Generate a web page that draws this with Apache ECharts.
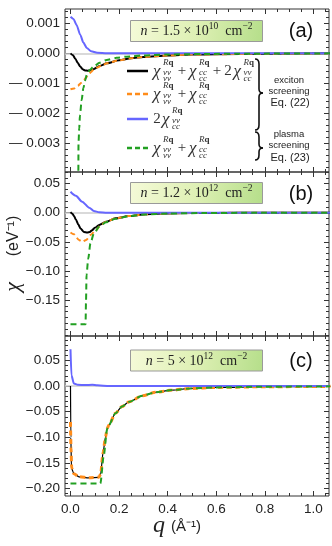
<!doctype html>
<html>
<head>
<meta charset="utf-8">
<title>chi(q) three densities</title>
<script src="https://cdn.jsdelivr.net/npm/echarts@6.0.0/dist/echarts.min.js"></script>
<style>
    body{margin:0;background:#fff;}
    #main{width:332px;height:546px;}
</style>
</head>
<body>
<div id="main"></div>
<script>
// ---- data, [q, chi] ----
// (a) n = 1.5e10
var aBlack = [[0,0],[0.01,-0.00006],[0.02,-0.00018],[0.03,-0.00032],[0.04,-0.00044],[0.05,-0.00053],[0.06,-0.00057],[0.07,-0.00058],[0.08,-0.00057],[0.094,-0.00053],[0.12,-0.00042],[0.15,-0.00033],[0.2,-0.00023],[0.25,-0.00016],[0.3,-0.00012],[0.4,-0.00007],[0.5,-0.00004],[0.6,-0.00003],[0.8,-0.00001],[1.07,0]];
var aOrange = [[0,-0.0012],[0.015,-0.00117],[0.03,-0.00108],[0.045,-0.00098],[0.055,-0.0009],[0.065,-0.0008],[0.075,-0.0007],[0.085,-0.00062],[0.095,-0.00054],[0.11,-0.00047],[0.13,-0.0004],[0.15,-0.00033],[0.2,-0.00023],[0.25,-0.00016],[0.3,-0.00012],[0.4,-0.00007],[0.5,-0.00004],[0.6,-0.00003],[0.8,-0.00001],[1.07,0]];
var aBlue = [[0,0.00122],[0.012,0.00115],[0.025,0.00095],[0.04,0.00062],[0.053,0.00036],[0.067,0.00018],[0.085,0.00007],[0.11,0.00002],[0.15,0.000005],[0.3,0],[1.07,0]];
var aGreen = [[0,-0.006],[0.031,-0.006],[0.032,-0.0045],[0.033,-0.003],[0.036,-0.0025],[0.039,-0.00206],[0.046,-0.00156],[0.053,-0.00116],[0.06,-0.00091],[0.067,-0.00072],[0.08,-0.00055],[0.094,-0.00045],[0.12,-0.00031],[0.149,-0.00022],[0.19,-0.00015],[0.231,-0.00011],[0.3,-0.00007],[0.4,-0.00004],[0.55,-0.00002],[0.75,-0.00001],[1.07,0]];
// (b) n = 1.2e12
var bBlack = [[0,0.001],[0.008,-0.002],[0.015,-0.006],[0.022,-0.0115],[0.032,-0.02],[0.041,-0.027],[0.055,-0.033],[0.069,-0.034],[0.08,-0.033],[0.089,-0.03],[0.1,-0.026],[0.118,-0.021],[0.146,-0.0155],[0.185,-0.0097],[0.24,-0.0057],[0.309,-0.0028],[0.377,-0.0012],[0.5,-0.0005],[0.7,-0.0002],[1.07,0]];
var bOrange = [[0,-0.034],[0.014,-0.037],[0.035,-0.047],[0.049,-0.05],[0.064,-0.047],[0.084,-0.038],[0.104,-0.03],[0.125,-0.021],[0.146,-0.0155],[0.185,-0.0097],[0.24,-0.0057],[0.309,-0.0028],[0.377,-0.0012],[0.5,-0.0005],[0.7,-0.0002],[1.07,0]];
var bBlue = [[0,0.036],[0.022,0.029],[0.048,0.019],[0.077,0.0086],[0.096,0.003],[0.118,0.0007],[0.15,0.0001],[0.3,0],[1.07,0]];
var bGreen = [[0,-0.192],[0.062,-0.192],[0.064,-0.15],[0.066,-0.107],[0.073,-0.079],[0.082,-0.053],[0.096,-0.036],[0.118,-0.024],[0.146,-0.0166],[0.185,-0.0105],[0.24,-0.006],[0.309,-0.003],[0.4,-0.0013],[0.55,-0.0005],[0.75,-0.0002],[1.07,0]];
// (c) n = 5e12
var cBlack = [[0,0],[0.0015,-0.1],[0.004,-0.16],[0.014,-0.171],[0.035,-0.177],[0.076,-0.179],[0.117,-0.178],[0.124,-0.172],[0.134,-0.13],[0.144,-0.1],[0.151,-0.083],[0.158,-0.076],[0.185,-0.053],[0.212,-0.04],[0.24,-0.031],[0.295,-0.019],[0.35,-0.012],[0.419,-0.0078],[0.494,-0.0045],[0.6,-0.0025],[0.8,-0.0012],[1.07,-0.0005]];
var cOrange = [[0,-0.07],[0.002,-0.12],[0.005,-0.16],[0.014,-0.171],[0.035,-0.177],[0.076,-0.179],[0.117,-0.178],[0.124,-0.172],[0.134,-0.13],[0.144,-0.1],[0.151,-0.083],[0.158,-0.076],[0.185,-0.053],[0.212,-0.04],[0.24,-0.031],[0.295,-0.019],[0.35,-0.012],[0.419,-0.0078],[0.494,-0.0045],[0.6,-0.0025],[0.8,-0.0012],[1.07,-0.0005]];
var cBlue = [[0,0.072],[0.004,0.021],[0.014,0.005],[0.03,0.0025],[0.06,0.002],[0.09,0.0025],[0.11,0.0015],[0.16,0.0003],[0.3,0.0001],[1.07,0]];
var cGreen = [[0,-0.19],[0.123,-0.19],[0.137,-0.135],[0.151,-0.083],[0.158,-0.076],[0.185,-0.053],[0.212,-0.04],[0.24,-0.031],[0.295,-0.019],[0.35,-0.012],[0.419,-0.0078],[0.494,-0.0045],[0.6,-0.0025],[0.8,-0.0012],[1.07,-0.0005]];

// ticks
var xTicks = [0, 0.2, 0.4, 0.6, 0.8, 1.0];
var yTicksA = [-0.003, -0.002, -0.001, 0, 0.001];
var yTicksB = [-0.15, -0.1, -0.05, 0, 0.05];
var yTicksC = [-0.2, -0.15, -0.1, -0.05, 0, 0.05];
var densMant = ['1.5', '1.2', '5'];
var densExp = ['10', '12', '12'];
var panelTags = ['(a)', '(b)', '(c)'];

var SANS = "'Liberation Sans', Arial, sans-serif";
var SERIF = "'Liberation Serif', 'DejaVu Serif', serif";
var XMIN = -0.0226, XMAX = 1.064;

var panels = [
    {top: 9, h: 163, min: -0.00396, max: 0.00148, major: yTicksA, minorStep: 0.0002, dec: 3,
     minus: '\u2014 ', data: [aBlack, aOrange, aBlue, aGreen]},
    {top: 172, h: 164, min: -0.212, max: 0.070, major: yTicksB, minorStep: 0.01, dec: 2,
     minus: '\u2212', data: [bBlack, bOrange, bBlue, bGreen]},
    {top: 336, h: 160, min: -0.2145, max: 0.0978, major: yTicksC, minorStep: 0.01, dec: 2,
     minus: '\u2212', data: [cBlack, cOrange, cBlue, cGreen]}
];

function steps(lo, hi, st) {
    var r = [];
    for (var v = Math.ceil(lo / st); v * st <= hi; v++) r.push(Math.round(v * st * 1e7) / 1e7);
    return r;
}
var xMinor = steps(0, 1.05, 0.05);

function fmt(dec, minus) {
    return function (v) {
        var s = Math.abs(v).toFixed(dec);
        return v < -1e-12 ? minus + s : s;
    };
}

var grid = [], xAxis = [], yAxis = [], series = [];
panels.forEach(function (p, i) {
    grid.push({left: 65, top: p.top, width: 264, height: p.h, show: true,
               borderColor: '#333', borderWidth: 1, backgroundColor: 'transparent'});
    // x: bottom major, bottom minor, top major, top minor
    [['bottom', xTicks, 5, i == 2], ['bottom', xMinor, 3, false],
     ['top', xTicks, 5, false], ['top', xMinor, 3, false]].forEach(function (c) {
        xAxis.push({gridIndex: i, type: 'value', position: c[0], min: XMIN, max: XMAX,
            axisLine: {show: false, onZero: false}, splitLine: {show: false},
            axisTick: {show: true, inside: true, length: c[2], customValues: c[1],
                       lineStyle: {color: '#333', width: 1}},
            axisLabel: {show: c[3], customValues: c[1], margin: 6, color: '#222',
                        fontSize: 13.5, fontFamily: SANS, hideOverlap: false,
                        formatter: function (v) { return v.toFixed(1); }}});
    });
    var yMinor = steps(p.min, p.max, p.minorStep);
    [['left', p.major, 5, true], ['left', yMinor, 3, false],
     ['right', p.major, 5, false], ['right', yMinor, 3, false]].forEach(function (c) {
        yAxis.push({gridIndex: i, type: 'value', position: c[0], min: p.min, max: p.max,
            axisLine: {show: false, onZero: false}, splitLine: {show: false},
            axisTick: {show: true, inside: true, length: c[2], customValues: c[1],
                       lineStyle: {color: '#333', width: 1}},
            axisLabel: {show: c[3], customValues: c[1], margin: 5, color: '#222',
                        fontSize: 13.5, fontFamily: SANS, hideOverlap: false,
                        formatter: fmt(p.dec, p.minus)}});
    });
    var styles = [
        {color: '#000', width: i == 2 ? 1.2 : 2, type: 'solid'},
        {color: '#ff8c1a', width: i == 2 ? 3 : 2, type: [5, 3.5]},
        {color: '#6666ff', width: 2, type: 'solid'},
        {color: '#22a022', width: 2, type: [6, 4]}
    ];
    p.data.forEach(function (d, k) {
        var s = {type: 'line', xAxisIndex: 4 * i, yAxisIndex: 4 * i, data: d,
                 symbol: 'none', smooth: 0.25, smoothMonotone: 'x', clip: true,
                 lineStyle: styles[k], z: 3 + k, silent: true};
        if (k == 0) {
            s.markLine = {silent: true, symbol: 'none', label: {show: false},
                          lineStyle: {color: '#cccccc', width: 1.5, type: 'solid'},
                          data: [{yAxis: 0}], z: 1};
        }
        series.push(s);
    });
});

// ---- annotation graphics ----
var graphic = [];
function txt(x, y, t, font, size, opts) {
    var st = {text: t, x: x, y: y, fontFamily: font, fontSize: size, fill: '#222',
              align: 'center', verticalAlign: 'middle', textAlign: 'center', textVerticalAlign: 'middle'};
    for (var k in (opts || {})) st[k] = opts[k];
    if (st.align) st.textAlign = st.align;
    graphic.push({type: 'text', z: 100, style: st});
}
var boxTop = [20.5, 182.5, 350];
var boxFill = new echarts.graphic.LinearGradient(0, 0, 1, 1, [
    {offset: 0, color: '#f5fad8'}, {offset: 0.5, color: '#def0b4'}, {offset: 1, color: '#b5de8a'}]);
panels.forEach(function (p, i) {
    graphic.push({type: 'rect', z: 90, shape: {x: 130.5, y: boxTop[i], width: 132, height: 21},
                  style: {fill: boxFill, stroke: '#9a9a9a', lineWidth: 1}});
    graphic.push({type: 'text', z: 100, style: {
        x: 196.5, y: boxTop[i] + 11, align: 'center', verticalAlign: 'middle',
        textAlign: 'center', textVerticalAlign: 'middle',
        text: '{i|n}{m| = ' + densMant[i] + ' \u00d7 10}{s|' + densExp[i] + '}{m|  cm}{s|\u22122}',
        rich: {
            i: {fontFamily: SERIF, fontStyle: 'italic', fontSize: 14, lineHeight: 20, fill: '#222'},
            m: {fontFamily: SERIF, fontSize: 14, lineHeight: 20, fill: '#222'},
            s: {fontFamily: SERIF, fontSize: 9.5, lineHeight: 11, verticalAlign: 'top', fill: '#222'}
        }}});
    txt(301, p.top + [22.5, 22, 25.5][i], panelTags[i], SANS, 20, {fill: '#111'});
});

// legend in (a)
var legRows = [71, 94, 119, 148];
var legStyles = [
    {stroke: '#000', lineWidth: 2.5},
    {stroke: '#ff8c1a', lineWidth: 2.5, lineDash: [5, 3]},
    {stroke: '#6666ff', lineWidth: 2.5},
    {stroke: '#22a022', lineWidth: 2.5, lineDash: [5, 3]}
];
legRows.forEach(function (y, k) {
    graphic.push({type: 'line', z: 95, shape: {x1: 127, y1: y, x2: 148, y2: y}, style: legStyles[k]});
});
function chi(x, cy, s1, s2) {
    txt(x, cy, '\u03c7', SERIF, 17, {align: 'left', fontStyle: 'italic', fill: '#333'});
    graphic.push({type: 'text', z: 100, style: {
        x: x + 10, y: cy - 9, align: 'left', verticalAlign: 'middle', textAlign: 'left', textVerticalAlign: 'middle',
        text: '{r|R}{q|q}',
        rich: {r: {fontFamily: SERIF, fontStyle: 'italic', fontSize: 9, fill: '#333'},
               q: {fontFamily: SERIF, fontWeight: 'bold', fontSize: 9, fill: '#333'}}}});
    txt(x + 10, cy + 0.5, s1, SERIF, 9, {align: 'left', fontStyle: 'italic', fill: '#333'});
    txt(x + 10, cy + 7, s2, SERIF, 9, {align: 'left', fontStyle: 'italic', fill: '#333'});
}
// row 1
chi(153, 72, 'vv', 'vv'); txt(182, 71, '+', SERIF, 15, {fill: '#333'});
chi(189, 72, 'cc', 'cc'); txt(217, 71, '+', SERIF, 15, {fill: '#333'});
txt(228, 71, '2', SERIF, 15, {fill: '#333'}); chi(233.5, 72, 'vv', 'cc');
// row 2
chi(153, 95, 'vv', 'vv'); txt(182, 94, '+', SERIF, 15, {fill: '#333'});
chi(189, 95, 'cc', 'cc');
// row 3
txt(157, 119, '2', SERIF, 15, {fill: '#333'}); chi(162, 120, 'vv', 'cc');
// row 4
chi(153, 149, 'vv', 'vv'); txt(182, 148, '+', SERIF, 15, {fill: '#333'});
chi(189, 149, 'cc', 'cc');

// braces built from curves and lines
function brace(top, tip, bot) {
    var st = {fill: 'none', stroke: '#111', lineWidth: 1.6};
    graphic.push({type: 'bezierCurve', z: 95, style: st,
        shape: {x1: 255, y1: top, x2: 259, y2: top + 5, cpx1: 259, cpy1: top}});
    graphic.push({type: 'line', z: 95, style: st,
        shape: {x1: 259, y1: top + 5, x2: 259, y2: tip - 4}});
    graphic.push({type: 'bezierCurve', z: 95, style: st,
        shape: {x1: 259, y1: tip - 4, x2: 263, y2: tip, cpx1: 259, cpy1: tip}});
    graphic.push({type: 'bezierCurve', z: 95, style: st,
        shape: {x1: 263, y1: tip, x2: 259, y2: tip + 4, cpx1: 259, cpy1: tip}});
    graphic.push({type: 'line', z: 95, style: st,
        shape: {x1: 259, y1: tip + 4, x2: 259, y2: bot - 5}});
    graphic.push({type: 'bezierCurve', z: 95, style: st,
        shape: {x1: 259, y1: bot - 5, x2: 255, y2: bot, cpx1: 259, cpy1: bot}});
}
brace(59, 93, 130);
brace(132, 148, 160);
txt(289, 80, 'exciton', SANS, 9.5);
txt(289, 91, 'screening', SANS, 9.5);
txt(290, 103, 'Eq. (22)', SANS, 11);
txt(289, 134, 'plasma', SANS, 9.5);
txt(289, 145, 'screening', SANS, 9.5);
txt(290, 157.5, 'Eq. (23)', SANS, 11);

// axis titles
graphic.push({type: 'text', z: 100, rotation: Math.PI / 2, x: 13, y: 287, style: {
    x: 0, y: 0, align: 'center', verticalAlign: 'middle', textAlign: 'center', textVerticalAlign: 'middle',
    text: '\u03c7', fontFamily: SERIF, fontStyle: 'italic', fontSize: 22, fill: '#222'}});
graphic.push({type: 'text', z: 100, rotation: Math.PI / 2, x: 14, y: 236, style: {
    x: 0, y: 0, align: 'center', verticalAlign: 'middle', textAlign: 'center', textVerticalAlign: 'middle',
    text: '(eV\u207b\u00b9)', fontFamily: SANS, fontSize: 16, fill: '#222'}});
graphic.push({type: 'text', z: 100, style: {
    x: 159, y: 526, align: 'center', verticalAlign: 'middle', textAlign: 'center', textVerticalAlign: 'middle',
    text: 'q', fontFamily: SERIF, fontStyle: 'italic', fontSize: 24, fill: '#222'}});
graphic.push({type: 'text', z: 100, style: {
    x: 186, y: 527, align: 'center', verticalAlign: 'middle', textAlign: 'center', textVerticalAlign: 'middle',
    text: '(\u00c5\u207b\u00b9)', fontFamily: SANS, fontSize: 15, fill: '#222'}});

var myChart = echarts.init(document.getElementById('main'));
myChart.setOption({
    animation: false,
    backgroundColor: '#fff',
    grid: grid,
    xAxis: xAxis,
    yAxis: yAxis,
    series: series,
    graphic: graphic
});
</script>
</body>
</html>
